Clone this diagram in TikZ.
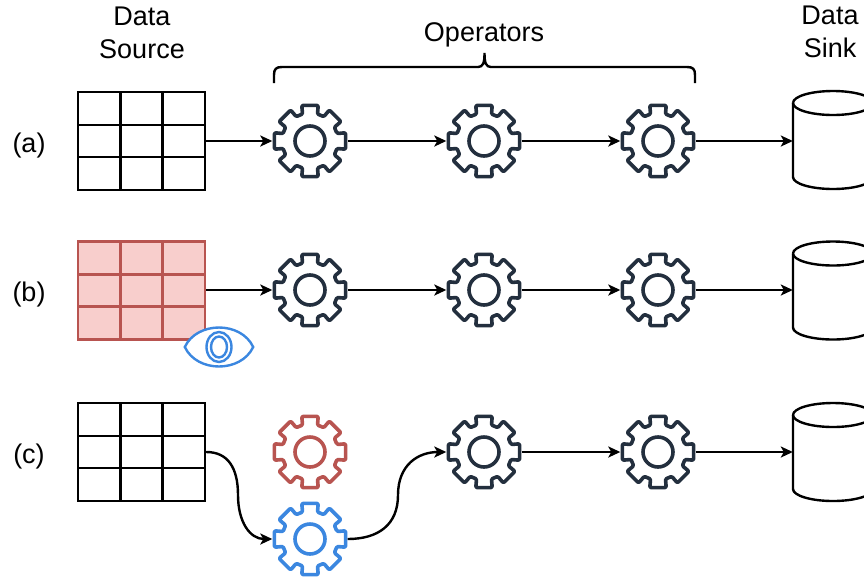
\documentclass[tikz,border=0pt]{standalone}
\usepackage{fontspec}
\setmainfont{Liberation Sans}
\usetikzlibrary{arrows.meta}
\definecolor{gearink}{HTML}{232F3E}
\definecolor{redink}{HTML}{B85450}
\definecolor{redfill}{HTML}{F8CECC}
\definecolor{blueink}{HTML}{3B87E0}
\tikzset{
  label text/.style={font=\fontsize{27}{33}\selectfont, align=center, inner sep=0pt},
  conn/.style={line width=2.4pt, -{Stealth[length=12pt,width=11pt,inset=3pt]}},
  gearnode/.style={minimum size=75pt, inner sep=0pt, shape=rectangle},
  sourcebox/.style={minimum width=127pt, minimum height=98pt, inner sep=0pt, shape=rectangle},
  sinknode/.style={minimum width=80pt, minimum height=98pt, inner sep=0pt, shape=rectangle},
  gear shape/.pic={
    \draw[line width=3.6pt, rounded corners=1.2pt, line join=round, pic actions]
      (-15.5:28)
      \foreach \a in {0,45,...,315}{ -- (\a-15.5:28) -- (\a-13:36.5) -- (\a+13:36.5) -- (\a+15.5:28) }
      -- cycle;
    \draw[line width=3.6pt, pic actions] (0,0) circle (15);
  }
}
\newcommand{\gridtable}[4]{% name, cx, cy, style
  \node[sourcebox, #4] (#1) at (#2,#3) {};
  \draw[#4, fill=none] (#2-21,#3-49) -- (#2-21,#3+49) (#2+21,#3-49) -- (#2+21,#3+49)
    (#2-63.5,#3-16) -- (#2+63.5,#3-16) (#2-63.5,#3+16) -- (#2+63.5,#3+16);
}
\newcommand{\gearat}[4]{% name, x, y, colour
  \node[gearnode] (#1) at (#2,#3) {};
  \pic[#4] at (#1.center) {gear shape};
}
\newcommand{\sinkat}[3]{% name, x, y
  \node[sinknode] (#1) at (#2,#3) {};
  \draw[line width=2.4pt] (#2-40,#3-37) arc[start angle=180, end angle=-180, x radius=40, y radius=12];
  \draw[line width=2.4pt] (#2-40,#3-37) -- (#2-40,#3+37)
    arc[start angle=180, end angle=0, x radius=40, y radius=12] -- (#2+40,#3-37);
}
\begin{document}
\begin{tikzpicture}[x=1pt,y=-1pt]
\useasboundingbox (0,0) rectangle (864,579);
\clip (0,0) rectangle (864,579);
\fill[white] (0,0) rectangle (864,579);

% headings
\node[label text] (hsource) at (142,33) {Data\\Source};
\node[label text] (hops) at (484,35) {Operators};
\node[label text] (hsink) at (830,32) {Data\\Sink};
\node[label text] (la) at (29,146) {(a)};
\node[label text] (lb) at (29,295) {(b)};
\node[label text] (lc) at (29,457) {(c)};

% brace
\draw[line width=2.4pt] (274,83) -- (274,75) .. controls (274,69) and (276,67) .. (282,67)
  -- (478,67) .. controls (483,67) and (484.5,63) .. (484.5,53)
  .. controls (484.5,63) and (486,67) .. (491,67)
  -- (687,67) .. controls (693,67) and (695,69) .. (695,75) -- (695,83);

% sources
\gridtable{sa}{141.5}{141}{draw=black, line width=2.4pt}
\gridtable{sb}{141.5}{290.5}{draw=redink, fill=redfill, line width=2.4pt}
\gridtable{sc}{141.5}{452}{draw=black, line width=2.4pt}

% eye
\node[minimum width=68pt, minimum height=40pt, inner sep=0pt] (eye) at (219,347) {};
\draw[blueink, line width=2.4pt, fill=white] (eye.west)
  .. controls (197,321) and (241,321) .. (eye.east)
  .. controls (241,373) and (197,373) .. cycle;
\draw[blueink, line width=2.4pt] (eye.center) ellipse[x radius=12.5, y radius=15];
\draw[blueink, line width=2.4pt] (eye.center) ellipse[x radius=8, y radius=10.5];

% gears
\gearat{a1}{310}{141}{gearink}
\gearat{a2}{484}{141}{gearink}
\gearat{a3}{658}{141}{gearink}
\gearat{b1}{310}{290}{gearink}
\gearat{b2}{484}{290}{gearink}
\gearat{b3}{658}{290}{gearink}
\gearat{cr}{310}{452}{redink}
\gearat{cb}{310}{539}{blueink}
\gearat{c2}{484}{452}{gearink}
\gearat{c3}{658}{452}{gearink}

% sinks
\sinkat{ka}{833}{140}
\sinkat{kb}{833}{290.5}
\sinkat{kc}{833}{452}

% connectors
\draw[conn] (sa.east|-a1.west) -- (a1.west);
\draw[conn] (a1.east) -- (a2.west);
\draw[conn] (a2.east) -- (a3.west);
\draw[conn] (a3.east) -- (ka.west|-a3.east);
\draw[conn] (sb.east|-b1.west) -- (b1.west);
\draw[conn] (b1.east) -- (b2.west);
\draw[conn] (b2.east) -- (b3.west);
\draw[conn] (b3.east) -- (kb.west|-b3.east);
\draw[conn] (sc.east) .. controls (228,452) and (238,468) .. (238,495)
  .. controls (238,522) and (250,539) .. (cb.west);
\draw[conn] (cb.east) .. controls (378,539) and (398,525) .. (398,495)
  .. controls (398,465) and (418,452) .. (c2.west);
\draw[conn] (c2.east) -- (c3.west);
\draw[conn] (c3.east) -- (kc.west|-c3.east);
\end{tikzpicture}
\end{document}
